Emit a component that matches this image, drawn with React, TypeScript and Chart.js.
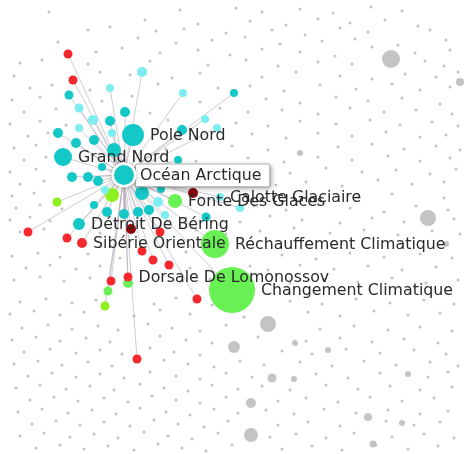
import React, { useEffect, useRef } from "react";
import { Chart, registerables } from "chart.js";
Chart.register(...registerables);

type N = [number, number, number];

const centerNode: N = [124, 175, 10];
const centerLabel = "Océan Arctique";

const tealNodes: N[] = [
  [69, 95, 4.5], [234, 93, 4], [125, 112, 5], [110, 121, 5], [182, 130, 5], [58, 133, 5],
  [133, 135, 11], [94, 140, 5], [76, 143, 5], [114, 150, 7], [63, 157, 9], [178, 160, 4],
  [72, 177, 5], [88, 177, 5], [98, 181, 5], [142, 193, 7], [161, 189, 4], [94, 205, 4],
  [107, 212, 5], [124, 214, 5], [138, 212, 5], [149, 210, 5], [79, 224, 6], [206, 217, 4.5],
  [102, 167, 4],
];
const cyanNodes: N[] = [
  [142, 72, 5], [110, 88, 4], [183, 93, 4], [79, 108, 4.5], [93, 120, 5], [205, 119, 4],
  [79, 128, 4], [217, 128, 4], [112, 133, 4], [158, 202, 5], [165, 215, 4], [220, 197, 4],
  [240, 208, 4], [105, 190, 4],
];
const redNodes: N[] = [
  [68, 54, 4.5], [73, 80, 4.5], [28, 232, 4.5], [67, 238, 4.5], [82, 243, 5], [160, 232, 4.5],
  [142, 251, 4.5], [153, 260, 4.5], [169, 265, 4.5], [111, 281, 4.5], [128, 277, 4.5],
  [197, 299, 4.5], [137, 359, 4.5],
];
const darkRedNodes: N[] = [[193, 193, 5], [131, 229, 5]];
const greenNodes: N[] = [[175, 201, 7], [215, 244, 14], [232, 290, 23], [128, 283, 5], [108, 291, 4.5]];
const limeNodes: N[] = [[112, 195, 7], [57, 202, 4.5], [105, 306, 4.5]];

const grayNodes: N[] = [
  [391, 59, 9], [428, 218, 8], [268, 324, 8], [234, 347, 6], [251, 435, 7], [272, 378, 4.5],
  [251, 403, 5], [368, 417, 4], [408, 374, 3], [294, 379, 3], [460, 82, 4], [328, 350, 3],
  [373, 444, 3.5], [402, 423, 3], [295, 343, 3], [446, 244, 3], [300, 153, 3],
];

const smallDots: [number, number][] = [
  [180, 10], [236, 8], [262, 12], [300, 9], [333, 13], [371, 7], [402, 11],
  [49, 12], [145, 20], [198, 24], [250, 21], [286, 25], [318, 19], [350, 23], [385, 20], [418, 26],
  [88, 30], [110, 27], [156, 31], [184, 29], [226, 33], [272, 30], [305, 35], [340, 28], [368, 32], [430, 30],
  [58, 42], [138, 38], [176, 43], [212, 40], [245, 37], [280, 44], [322, 41], [355, 39], [398, 45], [446, 40],
  [96, 52], [122, 48], [160, 53], [198, 50], [230, 55], [262, 49], [300, 52], [335, 56], [372, 47], [415, 53], [450, 50],
  [20, 63], [42, 60], [88, 64], [150, 61], [208, 65], [246, 60], [278, 66], [318, 62], [352, 64], [425, 61], [444, 66],
  [14, 76], [100, 72], [130, 75], [172, 78], [200, 73], [262, 77], [296, 72], [340, 76], [372, 79], [405, 74], [436, 77], [458, 72],
  [30, 88], [52, 85], [90, 90], [158, 84], [218, 88], [250, 86], [284, 91], [320, 85], [356, 89], [392, 84], [420, 90], [450, 87],
  [12, 100], [40, 97], [102, 101], [132, 96], [200, 102], [266, 99], [300, 103], [336, 97], [368, 101], [402, 98], [440, 104],
  [24, 112], [56, 109], [150, 113], [220, 108], [248, 112], [282, 110], [318, 114], [350, 108], [384, 112], [416, 110], [452, 114],
  [10, 124], [40, 121], [66, 125], [168, 120], [236, 123], [268, 126], [300, 121], [336, 124], [370, 120], [400, 125], [432, 122], [458, 126],
  [28, 136], [48, 133], [196, 137], [252, 134], [286, 138], [318, 133], [352, 136], [386, 132], [420, 137], [446, 135],
  [14, 148], [36, 145], [166, 149], [232, 146], [268, 150], [338, 147], [372, 144], [404, 149], [436, 146], [460, 150],
  [24, 160], [46, 157], [196, 161], [248, 158], [284, 162], [318, 157], [352, 160], [388, 156], [420, 161], [450, 158],
  [10, 172], [36, 169], [290, 173], [326, 168], [362, 172], [396, 170], [430, 174], [456, 169],
  [20, 184], [44, 181], [276, 185], [306, 182], [342, 186], [378, 180], [412, 184], [444, 182],
  [12, 196], [34, 193], [358, 197], [392, 194], [444, 198],
  [16, 208], [40, 205], [62, 209], [254, 206], [286, 210], [318, 204], [350, 208], [384, 212], [416, 206], [448, 210],
  [10, 220], [30, 217], [50, 221], [186, 218], [240, 222], [270, 216], [302, 220], [340, 223], [372, 218], [404, 222], [454, 219],
  [20, 232], [44, 229], [100, 233], [196, 230], [226, 234], [260, 231], [294, 228], [330, 233], [364, 230], [398, 235], [432, 231], [460, 234],
  [12, 256], [38, 253], [60, 257], [88, 254], [120, 258], [186, 252], [250, 266], [282, 255], [316, 259], [350, 253], [384, 257], [420, 254], [452, 258],
  [26, 268], [50, 265], [76, 269], [100, 266], [190, 268], [268, 270], [300, 265], [334, 269], [368, 266], [402, 270], [436, 267],
  [14, 280], [40, 277], [64, 281], [90, 278], [180, 282], [210, 279], [290, 283], [324, 279], [358, 282], [392, 278], [426, 283], [458, 280],
  [20, 302], [46, 299], [72, 303], [96, 300], [154, 304], [176, 298], [212, 305], [290, 301], [322, 304], [356, 299], [390, 303], [424, 300], [454, 304],
  [10, 314], [34, 311], [60, 315], [84, 312], [134, 316], [160, 310], [190, 314], [244, 317], [308, 312], [340, 316], [374, 311], [408, 315], [440, 313],
  [22, 328], [48, 325], [72, 329], [98, 326], [118, 330], [148, 324], [172, 328], [200, 331], [226, 325], [320, 329], [354, 326], [388, 330], [420, 327], [452, 331],
  [12, 340], [36, 337], [60, 341], [86, 338], [110, 342], [160, 336], [186, 340], [212, 343], [258, 337], [306, 341], [340, 338], [372, 342], [404, 339], [438, 343],
  [24, 352], [50, 349], [76, 353], [100, 350], [122, 354], [150, 348], [174, 352], [200, 355], [282, 351], [312, 354], [346, 349], [380, 353], [414, 350], [446, 354],
  [14, 364], [38, 361], [62, 365], [88, 362], [112, 366], [164, 360], [188, 364], [214, 367], [240, 361], [264, 365], [300, 362], [332, 366], [364, 361], [396, 365], [430, 362], [458, 366],
  [28, 376], [52, 373], [76, 377], [100, 374], [124, 378], [150, 372], [176, 376], [200, 379], [226, 373], [252, 377], [316, 374], [348, 378], [380, 373], [428, 377], [448, 372],
  [16, 388], [40, 385], [66, 389], [90, 386], [114, 390], [140, 384], [164, 388], [188, 391], [212, 385], [238, 389], [262, 386], [290, 390], [326, 385], [358, 389], [390, 386], [420, 390], [452, 387],
  [30, 400], [54, 397], [78, 401], [104, 398], [128, 402], [152, 396], [176, 400], [200, 403], [226, 397], [278, 401], [306, 398], [338, 402], [370, 397], [402, 401], [434, 398],
  [18, 412], [42, 409], [68, 413], [92, 410], [116, 414], [140, 408], [166, 412], [190, 415], [214, 409], [238, 413], [266, 410], [294, 414], [324, 409], [356, 413], [388, 410], [420, 414], [448, 411],
  [32, 424], [56, 421], [80, 425], [104, 422], [130, 426], [154, 420], [178, 424], [204, 427], [228, 421], [278, 425], [308, 422], [340, 426], [386, 421], [414, 425], [440, 422],
  [20, 436], [44, 433], [70, 437], [94, 434], [118, 438], [144, 432], [168, 436], [192, 439], [218, 433], [270, 437], [296, 434], [326, 438], [354, 433], [392, 437], [424, 434], [454, 438],
  [36, 448], [60, 445], [84, 449], [108, 446], [134, 450], [158, 444], [182, 448], [206, 451], [232, 445], [282, 449], [312, 446], [342, 450], [376, 445], [408, 449], [438, 446],
];

type Lbl = { text: string; node: N };
const nodeLabels: Lbl[] = [
  { text: "Pole Nord", node: tealNodes[6] },
  { text: "Grand Nord", node: tealNodes[10] },
  { text: "Calotte Glaciaire", node: cyanNodes[11] },
  { text: "Fonte Des Glaces", node: greenNodes[0] },
  { text: "Détroit De Béring", node: tealNodes[22] },
  { text: "Sibérie Orientale", node: redNodes[4] },
  { text: "Réchauffement Climatique", node: greenNodes[1] },
  { text: "Dorsale De Lomonossov", node: redNodes[10] },
  { text: "Changement Climatique", node: greenNodes[2] },
];

const FONT = '15.8px "DejaVu Sans", sans-serif';

const toBubble = (arr: N[]) => arr.map(([x, y, r]) => ({ x, y, r }));

export default function App() {
  const ref = useRef<HTMLCanvasElement | null>(null);
  useEffect(() => {
    document.body.style.margin = "0";
    const canvas = ref.current!;
    const linked = [...tealNodes, ...cyanNodes, ...redNodes, ...darkRedNodes, ...greenNodes, ...limeNodes];
    const edgeSets: any[] = linked.map((n) => ({
      type: "line",
      data: [{ x: centerNode[0], y: centerNode[1] }, { x: n[0], y: n[1] }],
      borderColor: "rgba(170,160,175,0.55)",
      borderWidth: 1,
      pointRadius: 0,
      order: 5,
    }));
    const bubble = (arr: N[], color: string, order: number, extra: any = {}) => ({
      type: "bubble",
      data: toBubble(arr),
      backgroundColor: color,
      borderWidth: 0,
      hoverRadius: 0,
      order,
      ...extra,
    });
    const labelPlugin = {
      id: "labels",
      afterDatasetsDraw(chart: any) {
        const ctx = chart.ctx as CanvasRenderingContext2D;
        const xs = chart.scales.x;
        const ys = chart.scales.y;
        ctx.save();
        ctx.font = FONT;
        ctx.textBaseline = "middle";
        ctx.textAlign = "left";
        ctx.fillStyle = "#2a2a2a";
        for (const l of nodeLabels) {
          const px = xs.getPixelForValue(l.node[0]) + l.node[2] + 6;
          const py = ys.getPixelForValue(l.node[1]);
          ctx.fillText(l.text, px, py + 1);
        }
        const cx = xs.getPixelForValue(centerNode[0]);
        const cy = ys.getPixelForValue(centerNode[1]);
        const tw = ctx.measureText(centerLabel).width;
        const bx = cx + centerNode[2] + 1;
        const bw = tw + 13;
        const bh = 23;
        ctx.save();
        ctx.shadowColor = "rgba(0,0,0,0.35)";
        ctx.shadowBlur = 5;
        ctx.shadowOffsetX = 2;
        ctx.shadowOffsetY = 2;
        ctx.fillStyle = "#fff";
        ctx.beginPath();
        (ctx as any).roundRect(bx, cy - bh / 2, bw, bh, 2);
        ctx.fill();
        ctx.restore();
        ctx.strokeStyle = "rgba(150,150,150,0.8)";
        ctx.lineWidth = 1;
        ctx.beginPath();
        (ctx as any).roundRect(bx + 0.5, cy - bh / 2 + 0.5, bw, bh, 2);
        ctx.stroke();
        ctx.save();
        ctx.shadowColor = "rgba(0,0,0,0.3)";
        ctx.shadowBlur = 4;
        ctx.beginPath();
        ctx.arc(cx, cy, centerNode[2] + 2.5, 0, Math.PI * 2);
        ctx.fillStyle = "#fff";
        ctx.fill();
        ctx.restore();
        ctx.beginPath();
        ctx.arc(cx, cy, centerNode[2], 0, Math.PI * 2);
        ctx.fillStyle = "rgb(20,200,200)";
        ctx.fill();
        ctx.fillStyle = "#2a2a2a";
        ctx.fillText(centerLabel, bx + 5, cy + 1);
        ctx.restore();
      },
    };
    const chart = new Chart(canvas, {
      type: "bubble",
      data: {
        datasets: [
          {
            type: "scatter",
            data: smallDots.map(([x, y]) => ({ x, y })),
            backgroundColor: "rgba(170,170,170,0.7)",
            pointRadius: 1.5,
            borderWidth: 0,
            order: 20,
          } as any,
          bubble(grayNodes, "rgba(190,190,190,0.9)", 15),
          ...edgeSets,
          bubble(greenNodes, "rgb(105,240,85)", 3),
          bubble(limeNodes, "rgb(140,240,30)", 3),
          bubble(cyanNodes, "rgb(125,238,240)", 2),
          bubble(tealNodes, "rgb(20,200,200)", 1),
          bubble(redNodes, "rgb(245,40,45)", 1),
          bubble(darkRedNodes, "rgb(140,5,10)", 1),
          bubble([centerNode], "rgb(20,200,200)", 0, { borderColor: "#fff", borderWidth: 3 }),
        ],
      },
      options: {
        responsive: false,
        animation: false,
        events: [],
        layout: { padding: 0, autoPadding: false },
        plugins: { legend: { display: false }, tooltip: { enabled: false } },
        scales: {
          x: { type: "linear", min: 0, max: 465, display: false },
          y: { type: "linear", min: 0, max: 454, reverse: true, display: false },
        },
      },
      plugins: [labelPlugin],
    });
    return () => chart.destroy();
  }, []);
  return (
    <div style={{ position: "absolute", left: 0, top: 0, width: 465, height: 454, background: "#fff" }}>
      <canvas ref={ref} width={465} height={454} />
    </div>
  );
}
